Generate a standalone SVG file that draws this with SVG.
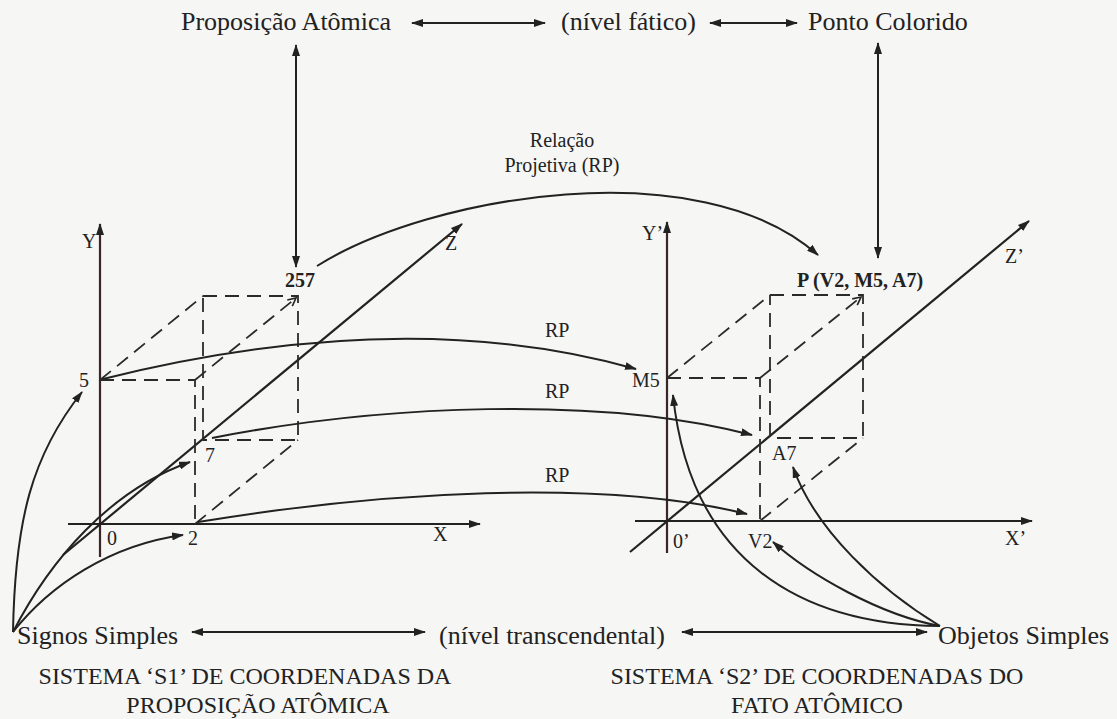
<svg xmlns="http://www.w3.org/2000/svg" width="1117" height="719" viewBox="0 0 1117 719">
<style>
text{font-family:"Liberation Serif","Times New Roman",serif;fill:#222}
.t26{font-size:26px}
.t24{font-size:24px}
.t20{font-size:20px}
.b{font-weight:bold}
.ax{stroke:#222;stroke-width:2.2;fill:none}
.ya{stroke:#3a2626;stroke-width:2.2;fill:none}
.ln{stroke:#222;stroke-width:2;fill:none}
.ds{stroke:#2a2a2a;stroke-width:1.8;stroke-dasharray:14 8;fill:none}
</style>
<defs>
<marker id="ah" viewBox="0 0 12 8" refX="11" refY="4" markerWidth="12" markerHeight="8" markerUnits="userSpaceOnUse" orient="auto-start-reverse"><path d="M0,0 L12,4 L0,8 z" fill="#222"/></marker>
<marker id="oh" viewBox="0 0 10 10" refX="9" refY="5" markerWidth="10" markerHeight="10" markerUnits="userSpaceOnUse" orient="auto"><path d="M1,1 L9,5 L1,9" fill="none" stroke="#222" stroke-width="1.6"/></marker>
</defs>
<rect width="1117" height="719" fill="#f6f6f4"/>

<g id="axes-s1">
<line class="ya" x1="100" y1="557" x2="100" y2="224" marker-end="url(#ah)"/>
<line class="ax" x1="68" y1="524" x2="480" y2="524" marker-end="url(#ah)"/>
<line class="ax" x1="63" y1="555" x2="462" y2="224" marker-end="url(#ah)"/>
<text class="t20" x="82" y="248">Y</text>
<text class="t20" x="433" y="541">X</text>
<text class="t20" x="445" y="250">Z</text>
<text class="t20" x="107" y="545">0</text>
<text class="t20" x="188" y="545">2</text>
<text class="t20" x="205" y="462">7</text>
<text class="t20" x="79" y="387">5</text>
</g>
<g id="box-s1">
<path class="ds" d="M100,380 H195 V524 M203,296 H298 V440 H203 V296 M100,380 L203,296 M195,524 L298,440"/>
<line class="ds" x1="195" y1="380" x2="296" y2="298" marker-end="url(#oh)"/>
</g>
<g id="axes-s2">
<line class="ya" x1="667" y1="553" x2="667" y2="222" marker-end="url(#ah)"/>
<line class="ax" x1="635" y1="521" x2="1032" y2="521" marker-end="url(#ah)"/>
<line class="ax" x1="630" y1="552" x2="1029" y2="221" marker-end="url(#ah)"/>
<text class="t20" x="642" y="240">Y’</text>
<text class="t20" x="1005" y="545">X’</text>
<text class="t20" x="1005" y="263">Z’</text>
<text class="t20" x="673" y="548">0’</text>
<text class="t20" x="748" y="548">V2</text>
<text class="t20" x="772" y="460">A7</text>
<text class="t20" x="632" y="387">M5</text>
</g>
<g id="box-s2">
<path class="ds" d="M667,378 H760 V521 M770,295 H863 V438 H770 V295 M667,378 L770,295 M760,521 L863,438"/>
<line class="ds" x1="760" y1="378" x2="861" y2="297" marker-end="url(#oh)"/>
</g>

<g id="n-proposicao"><text class="t26" x="181" y="30">Proposição Atômica</text></g>
<g id="n-nivel-fatico"><text class="t26" x="561" y="30">(nível fático)</text></g>
<g id="n-ponto"><text class="t26" x="808" y="30">Ponto Colorido</text></g>
<g id="n-257"><text class="t20 b" x="285" y="287">257</text></g>
<g id="n-p"><text class="t20 b" x="797" y="287">P (V2, M5, A7)</text></g>
<g id="n-relacao"><text class="t20" x="562" y="147" text-anchor="middle">Relação</text><text class="t20" x="562" y="172" text-anchor="middle">Projetiva (RP)</text></g>
<g id="n-rp1"><text class="t20" x="545" y="337">RP</text></g>
<g id="n-rp2"><text class="t20" x="545" y="398">RP</text></g>
<g id="n-rp3"><text class="t20" x="545" y="482">RP</text></g>
<g id="n-signos"><text class="t26" x="17" y="644">Signos Simples</text></g>
<g id="n-nivel-transc"><text class="t26" x="439" y="644">(nível transcendental)</text></g>
<g id="n-objetos"><text class="t26" x="938" y="644">Objetos Simples</text></g>
<g id="n-title-s1"><text class="t24" x="245" y="684" text-anchor="middle">SISTEMA ‘S1’ DE COORDENADAS DA</text><text class="t24" x="258" y="713" text-anchor="middle">PROPOSIÇÃO ATÔMICA</text></g>
<g id="n-title-s2"><text class="t24" x="817" y="684" text-anchor="middle">SISTEMA ‘S2’ DE COORDENADAS DO</text><text class="t24" x="817" y="713" text-anchor="middle">FATO ATÔMICO</text></g>

<g id="connectors">
<line class="ln" x1="412" y1="23" x2="545" y2="23" marker-start="url(#ah)" marker-end="url(#ah)"/>
<line class="ln" x1="710" y1="23" x2="797" y2="23" marker-start="url(#ah)" marker-end="url(#ah)"/>
<line class="ln" x1="296" y1="45" x2="296" y2="267" marker-start="url(#ah)" marker-end="url(#ah)"/>
<line class="ln" x1="878" y1="43" x2="878" y2="258" marker-start="url(#ah)" marker-end="url(#ah)"/>
<line class="ln" x1="192" y1="632" x2="425" y2="632" marker-start="url(#ah)" marker-end="url(#ah)"/>
<line class="ln" x1="682" y1="632" x2="927" y2="632" marker-start="url(#ah)" marker-end="url(#ah)"/>
<path class="ln" d="M317,266 C430,195 700,150 818,255" marker-end="url(#ah)"/>
<path class="ln" d="M103,379 C300,330 480,325 636,369" marker-end="url(#ah)"/>
<path class="ln" d="M212,438 C380,405 600,395 752,435" marker-end="url(#ah)"/>
<path class="ln" d="M198,522 C380,492 600,478 747,514" marker-end="url(#ah)"/>
<path class="ln" d="M13,632 C15,520 32,455 82,392" marker-end="url(#ah)"/>
<path class="ln" d="M13,632 C50,560 110,490 190,462" marker-end="url(#ah)"/>
<path class="ln" d="M13,632 C50,585 110,545 183,535" marker-end="url(#ah)"/>
<path class="ln" d="M940,626 C800,625 690,560 673,395" marker-end="url(#ah)"/>
<path class="ln" d="M940,626 C880,615 810,575 773,542" marker-end="url(#ah)"/>
<path class="ln" d="M940,626 C880,590 815,530 793,467" marker-end="url(#ah)"/>
</g>
</svg>
